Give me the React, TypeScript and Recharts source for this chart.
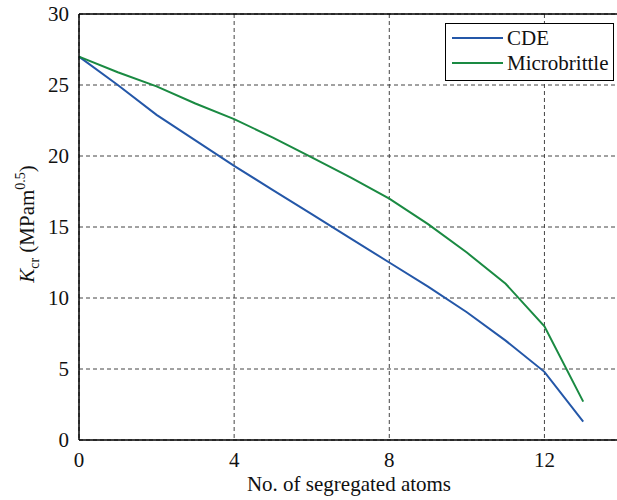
import React from "react";
import {
  LineChart,
  Line,
  XAxis,
  YAxis,
  CartesianGrid,
  ReferenceLine,
} from "recharts";

// number of segregated atoms
const atoms = [0, 1, 2, 3, 4, 5, 6, 7, 8, 9, 10, 11, 12, 13];
// critical stress intensity, MPa m^0.5
const cde = [27, 25.0, 22.9, 21.1, 19.3, 17.6, 15.9, 14.2, 12.5, 10.8, 9.0, 7.0, 4.8, 1.3];
const microbrittle = [27, 25.9, 24.9, 23.7, 22.6, 21.3, 19.9, 18.5, 17.0, 15.2, 13.2, 11.0, 8.0, 2.7];

const xTicks = [0, 4, 8, 12];
const yTicks = [0, 5, 10, 15, 20, 25, 30];

const BLUE = "#2457a8";
const GREEN = "#1a8a42";
const FONT = "Liberation Serif, DejaVu Serif, serif";
const FS = 21;

const data = atoms.map((n, i) => ({
  n,
  cde: cde[i],
  micro: microbrittle[i],
}));

const series = [
  { key: "cde", name: "CDE", color: BLUE },
  { key: "micro", name: "Microbrittle", color: GREEN },
];

function LegendBox() {
  return (
    <svg
      width={170}
      height={60}
      style={{ position: "absolute", left: 445, top: 23, display: "block" }}
    >
      <rect x={0.5} y={0.5} width={168} height={57} fill="#fff" stroke="#000" strokeWidth={1} />
      {series.map((s, i) => (
        <g key={s.key}>
          <line x1={7} x2={58} y1={15 + i * 25} y2={15 + i * 25} stroke={s.color} strokeWidth={2} />
          <text x={62} y={15 + i * 25} dy="0.35em" fontFamily={FONT} fontSize={FS} fill="#111">
            {s.name}
          </text>
        </g>
      ))}
    </svg>
  );
}

function YLabel() {
  const cx = 27;
  const cy = 224;
  return (
    <text
      x={cx}
      y={cy}
      transform={`rotate(-90, ${cx}, ${cy})`}
      textAnchor="middle"
      dy="0.35em"
      fontFamily={FONT}
      fontSize={FS}
      fill="#111"
    >
      <tspan fontStyle="italic">K</tspan>
      <tspan fontSize={14} dy={5}>cr</tspan>
      <tspan dy={-5}> (MPam</tspan>
      <tspan fontSize={14} dy={-9}>0.5</tspan>
      <tspan dy={9}>)</tspan>
    </text>
  );
}

function XLabel() {
  return (
    <text x={349} y={491} textAnchor="middle" fontFamily={FONT} fontSize={FS} fill="#111">
      No. of segregated atoms
    </text>
  );
}

function XTick(props: any) {
  const { x, y, payload } = props;
  return (
    <text x={x} y={y + 25} textAnchor="middle" fontFamily={FONT} fontSize={FS} fill="#111">
      {payload.value}
    </text>
  );
}

function YTick(props: any) {
  const { x, y, payload } = props;
  return (
    <text x={x - 8} y={y} dy="0.35em" textAnchor="end" fontFamily={FONT} fontSize={FS} fill="#111">
      {payload.value}
    </text>
  );
}

export default function App() {
  return (
    <div
      style={{
        position: "absolute",
        left: 0,
        top: 0,
        width: 617,
        height: 500,
        background: "#fff",
        fontFamily: FONT,
        overflow: "hidden",
      }}
    >
      <LineChart
        width={622}
        height={500}
        data={data}
        margin={{ top: 14, right: 0, left: 0, bottom: 0 }}
      >
        <CartesianGrid stroke="#444" strokeDasharray="4 3" strokeWidth={1} />
        <XAxis
          dataKey="n"
          type="number"
          domain={[0, 14]}
          ticks={xTicks}
          height={60}
          tickLine={false}
          tickSize={0}
          stroke="#000"
          strokeWidth={1.5}
          tick={<XTick />}
          label={<XLabel />}
        />
        <YAxis
          type="number"
          domain={[0, 30]}
          ticks={yTicks}
          width={79}
          tickLine={false}
          tickSize={0}
          stroke="#000"
          strokeWidth={1.5}
          tick={<YTick />}
          label={<YLabel />}
        />
        <ReferenceLine y={30} stroke="#000" strokeWidth={1.5} />
        {series.map((s) => (
          <Line
            key={s.key}
            type="linear"
            dataKey={s.key}
            name={s.name}
            stroke={s.color}
            strokeWidth={2}
            dot={false}
            isAnimationActive={false}
          />
        ))}
      </LineChart>
      <LegendBox />
    </div>
  );
}
